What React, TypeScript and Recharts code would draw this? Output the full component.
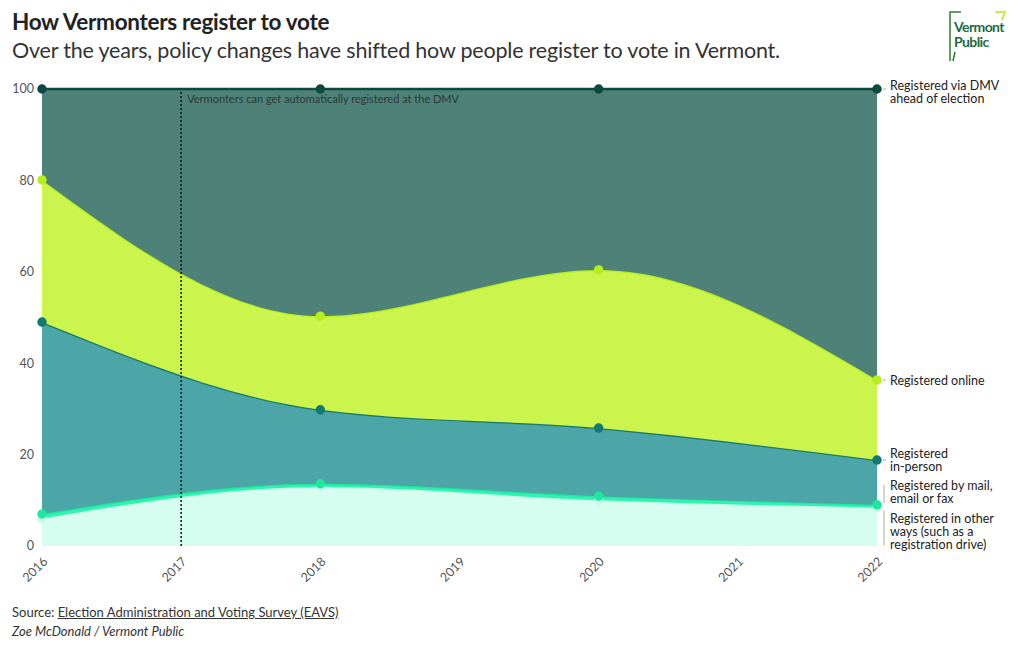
import React from "react";
import {
  AreaChart,
  Area,
  XAxis,
  YAxis,
  ReferenceLine,
} from "recharts";

const years = [2016, 2018, 2020, 2022];
const otherWays = [6.0, 12.9, 10.0, 8.4];
const byMail = [1.0, 0.7, 0.9, 0.6];
const inPerson = [42.0, 16.2, 14.9, 9.8];
const online = [31.1, 20.5, 34.6, 17.5];
const viaDmv = [19.9, 49.7, 39.6, 63.7];

const xTicks = [2016, 2017, 2018, 2019, 2020, 2021, 2022];
const yTicks = [0, 20, 40, 60, 80, 100];
const policyYear = 2017;
const policyNote = "Vermonters can get automatically registered at the DMV";

const labelOther = ["Registered in other", "ways (such as a", "registration drive)"];
const labelMail = ["Registered by mail,", "email or fax"];
const labelInPerson = ["Registered", "in-person"];
const labelOnline = ["Registered online"];
const labelDmv = ["Registered via DMV", "ahead of election"];

const data = years.map((year, i) => ({
  year,
  other: otherWays[i],
  mail: byMail[i],
  inPerson: inPerson[i],
  online: online[i],
  dmv: viaDmv[i],
}));

const FONT = "Lato, 'Open Sans', sans-serif";

function makeLabel(lines: string[], firstDy: number, step: number, bracket: [number, number] | null) {
  return (props: any) => {
    const { x, y, index } = props;
    if (index !== years.length - 1 || x == null || y == null) return null;
    const tx = x + 13;
    return (
      <g>
        {bracket ? (
          <line x1={x + 7} x2={x + 7} y1={y + bracket[0]} y2={y + bracket[1]} stroke="#aaa" strokeWidth={1} />
        ) : (
          <line x1={x + 6} x2={x + 9} y1={y} y2={y} stroke="#aaa" strokeWidth={1} />
        )}
        {lines.map((l, k) => (
          <text
            key={k}
            x={tx}
            y={y + firstDy + k * step}
            dominantBaseline="central"
            fontSize={12.5}
            fill="#222"
            fontFamily={FONT}
          >
            {l}
          </text>
        ))}
      </g>
    );
  };
}

const NoteLabel = (props: any) => {
  const vb = props.viewBox || {};
  return (
    <text x={vb.x + 6} y={vb.y + 9} dominantBaseline="central" fontSize={11} fill="#2a3a38" fontFamily={FONT}>
      {policyNote}
    </text>
  );
};

export default function App() {
  return (
    <div style={{ position: "absolute", left: 0, top: 0, width: 1020, height: 650, background: "#fff", fontFamily: FONT }}>
      <div style={{ position: "absolute", left: 12, top: 8, fontSize: 22.5, fontWeight: 700, color: "#222", letterSpacing: -0.3 }}>
        How Vermonters register to vote
      </div>
      <div style={{ position: "absolute", left: 12, top: 37, fontSize: 21.5, color: "#333", letterSpacing: -0.2 }}>
        Over the years, policy changes have shifted how people register to vote in Vermont.
      </div>
      <svg style={{ position: "absolute", left: 945, top: 8 }} width={70} height={56}>
        <polyline points="16,4 5,4 5,53" fill="none" stroke="#2e7d32" strokeWidth={1.5} />
        <polyline points="50,4 60,4 57,12" fill="none" stroke="#b7e61c" strokeWidth={1.5} />
        <polyline points="10,44 8,53" fill="none" stroke="#2e7d32" strokeWidth={1.5} />
        <text x={9} y={24} fontSize={14} fontWeight={700} fill="#1d6b45" fontFamily={FONT} letterSpacing={-0.6}>Vermont</text>
        <text x={9} y={39} fontSize={14} fontWeight={700} fill="#1d6b45" fontFamily={FONT} letterSpacing={-0.6}>Public</text>
      </svg>

      <div style={{ position: "absolute", left: 0, top: 0 }}>
        <AreaChart
          width={1020}
          height={650}
          data={data}
          margin={{ top: 89, right: 143, bottom: 54, left: 12 }}
        >
          <XAxis
            dataKey="year"
            type="number"
            domain={[2016, 2022]}
            ticks={xTicks}
            angle={-45}
            textAnchor="end"
            height={50}
            axisLine={false}
            tickLine={false}
            tick={{ fontSize: 12.5, fill: "#555", fontFamily: FONT }}
            tickMargin={4}
          />
          <YAxis
            type="number"
            domain={[0, 100]}
            ticks={yTicks}
            width={30}
            axisLine={false}
            tickLine={false}
            tick={{ fontSize: 12.5, fill: "#555", fontFamily: FONT }}
            tickMargin={2}
          />
          <Area
            type="monotone"
            dataKey="other"
            stackId="a"
            stroke="#c8fae8"
            strokeWidth={2.5}
            fill="#d5fdf0"
            fillOpacity={1}
            dot={{ r: 3.5, fill: "#c8fae8", stroke: "#c8fae8" }}
            isAnimationActive={false}
            label={makeLabel(labelOther, 11, 13, [3, 38])}
          />
          <Area
            type="monotone"
            dataKey="mail"
            stackId="a"
            stroke="#1ee8a0"
            strokeWidth={2.5}
            fill="#30f3b2"
            fillOpacity={1}
            dot={{ r: 3.5, fill: "#1ee8a0", stroke: "#1ee8a0" }}
            isAnimationActive={false}
            label={makeLabel(labelMail, -19, 13, [-20, -2])}
          />
          <Area
            type="monotone"
            dataKey="inPerson"
            stackId="a"
            stroke="#147a72"
            strokeWidth={2.5}
            fill="#4ca5a6"
            fillOpacity={1}
            dot={{ r: 3.5, fill: "#147a72", stroke: "#147a72" }}
            isAnimationActive={false}
            label={makeLabel(labelInPerson, -7, 13, null)}
          />
          <Area
            type="monotone"
            dataKey="online"
            stackId="a"
            stroke="#b6ee1c"
            strokeWidth={2.5}
            fill="#cbf54c"
            fillOpacity={1}
            dot={{ r: 3.5, fill: "#b6ee1c", stroke: "#b6ee1c" }}
            isAnimationActive={false}
            label={makeLabel(labelOnline, 0, 13, null)}
          />
          <Area
            type="monotone"
            dataKey="dmv"
            stackId="a"
            stroke="#0c4a40"
            strokeWidth={2.5}
            fill="#4e8178"
            fillOpacity={1}
            dot={{ r: 3.5, fill: "#0c4a40", stroke: "#0c4a40" }}
            isAnimationActive={false}
            label={makeLabel(labelDmv, -4, 13, null)}
          />
          <ReferenceLine
            x={policyYear}
            stroke="#111"
            strokeWidth={1.5}
            strokeDasharray="2 2"
            label={<NoteLabel />}
          />
        </AreaChart>
      </div>

      <div style={{ position: "absolute", left: 12, top: 604, fontSize: 13, color: "#333" }}>
        Source: <span style={{ textDecoration: "underline" }}>Election Administration and Voting Survey (EAVS)</span>
      </div>
      <div style={{ position: "absolute", left: 12, top: 623, fontSize: 13, color: "#333", fontStyle: "italic" }}>
        Zoe McDonald / Vermont Public
      </div>
    </div>
  );
}
